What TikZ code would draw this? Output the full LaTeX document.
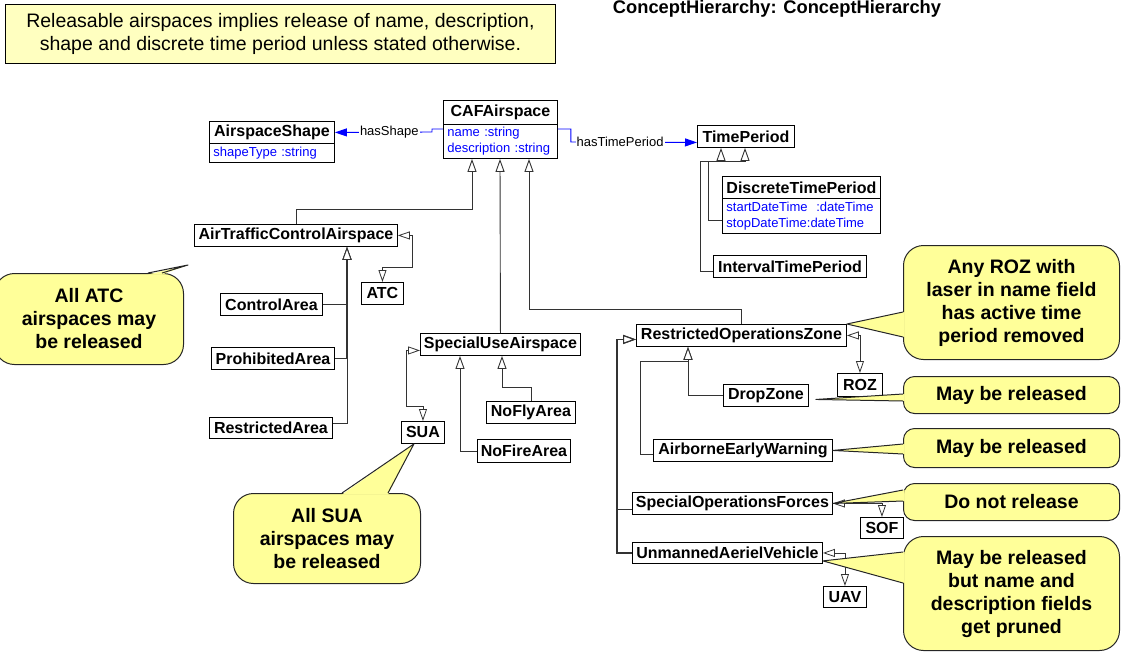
\documentclass[tikz,border=0pt]{standalone}
\usepackage{fontspec}
\setmainfont{Liberation Sans}
\usetikzlibrary{arrows.meta}
\definecolor{notefill}{RGB}{255,255,192}
\definecolor{callfill}{RGB}{255,255,153}
\definecolor{attrblue}{RGB}{0,0,255}
\newcommand\bubptr[4]{%
  \fill[callfill] ([#4]#1) -- (#2) -- ([#4]#3) -- cycle;
  \draw[ptrline] (#1) -- (#2) -- (#3);
}
\tikzset{
  cls/.style={draw=black, fill=white, line width=0.9pt, inner sep=0pt, anchor=north west, font=\fontsize{16}{17}\selectfont\bfseries},
  attr/.style={draw=black, fill=white, line width=0.9pt, inner xsep=4pt, inner ysep=0pt, anchor=north west, align=left, text=attrblue, font=\fontsize{13}{16}\selectfont},
  gen/.style={draw=black!80, line width=0.9pt, -{Triangle[open,length=13pt,width=9pt,fill=white]}},
  dep/.style={draw=black!80, line width=0.8pt, {Triangle[open,length=12pt,width=8pt,fill=white]}-{Triangle[open,length=12pt,width=8pt,fill=white]}},
  assoc/.style={draw=attrblue, line width=0.9pt, -{Triangle[length=12pt,width=8pt]}},
  lbl/.style={fill=white, inner sep=1pt, text=black, font=\fontsize{13}{15}\selectfont},
  bubble/.style={draw=black!85, fill=callfill, line width=1pt, rounded corners=20pt, anchor=north west, align=center, inner sep=0pt, font=\fontsize{19.5}{23}\selectfont\bfseries},
  bubsmall/.style={bubble, rounded corners=11pt},
  ptrline/.style={draw=black!85, line width=1pt, line join=round},
}
\begin{document}
\begin{tikzpicture}[x=1pt,y=-1pt]
\useasboundingbox (0,0) rectangle (1122,654);

% note and title
\node[draw=black, fill=notefill, line width=0.9pt, anchor=north west, minimum width=550pt, minimum height=59pt, align=center, inner sep=0pt, font=\fontsize{19.5}{23}\selectfont] (note) at (5,4) {Releasable airspaces implies release of name, description,\\shape and discrete time period unless stated otherwise.};
\node[font=\fontsize{18.3}{20}\selectfont\bfseries, inner sep=0pt] (title) at (777,9) {ConceptHierarchy: ConceptHierarchy};

% classes
\node[cls, minimum width=114pt, minimum height=24pt] (caf) at (443,100) {CAFAirspace};
\node[attr, text width=106pt, minimum height=34pt] (cafa) at (443,124) {name :string\\description :string};
\node[cls, minimum width=125pt, minimum height=22pt] (shape) at (209,121) {AirspaceShape};
\node[attr, text width=117pt, minimum height=19pt] (shapea) at (209,143) {shapeType :string};
\node[cls, minimum width=97pt, minimum height=22pt] (tp) at (697,125) {TimePeriod};
\node[cls, minimum width=158pt, minimum height=22pt] (dtp) at (722,176) {DiscreteTimePeriod};
\node[attr, text width=150pt, minimum height=35pt] (dtpa) at (722,198) {startDateTime\ \ :dateTime\\stopDateTime:dateTime};
\node[cls, minimum width=153pt, minimum height=22pt] (itp) at (713,255) {IntervalTimePeriod};
\node[cls, minimum width=203pt, minimum height=22pt] (atca) at (194,224) {AirTrafficControlAirspace};
\node[cls, minimum width=42pt, minimum height=22pt] (atc) at (361,282) {ATC};
\node[cls, minimum width=102pt, minimum height=22pt] (ctrl) at (220,293) {ControlArea};
\node[cls, minimum width=123pt, minimum height=22pt] (proh) at (211,347) {ProhibitedArea};
\node[cls, minimum width=123pt, minimum height=21pt] (restr) at (209,417) {RestrictedArea};
\node[cls, minimum width=160pt, minimum height=22pt] (sua) at (420,333) {SpecialUseAirspace};
\node[cls, minimum width=43pt, minimum height=22pt] (suas) at (401,421) {SUA};
\node[cls, minimum width=89pt, minimum height=22pt] (nofly) at (486,401) {NoFlyArea};
\node[cls, minimum width=93pt, minimum height=23pt] (nofire) at (477,439) {NoFireArea};
\node[cls, minimum width=210pt, minimum height=22pt] (roz) at (636,324) {RestrictedOperationsZone};
\node[cls, minimum width=45pt, minimum height=23pt] (rozs) at (837,373) {ROZ};
\node[cls, minimum width=85pt, minimum height=22pt] (drop) at (723,384) {DropZone};
\node[cls, minimum width=179pt, minimum height=22pt] (aew) at (653,439) {AirborneEarlyWarning};
\node[cls, minimum width=200pt, minimum height=22pt] (sof) at (632,492) {SpecialOperationsForces};
\node[cls, minimum width=43pt, minimum height=21pt] (sofs) at (860,517) {SOF};
\node[cls, minimum width=190pt, minimum height=21pt] (uav) at (632,542) {UnmannedAerielVehicle};
\node[cls, minimum width=43pt, minimum height=21pt] (uavs) at (823,586) {UAV};

% associations
\draw[assoc] ([yshift=-5pt]cafa.north west) -- ++(-11,0) -- ++(0,3) -- node[lbl, pos=0.44]{hasShape} (shape.east);
\draw[assoc] ([yshift=-5pt]cafa.north east) -- ++(13,0) -- ++(0,13) -- node[lbl, pos=0.39]{hasTimePeriod} ([yshift=-6pt]tp.west);

% generalizations to CAFAirspace
\draw[gen] (atca.north) -- ++(0,-15) -| ([xshift=29pt]cafa.south west);
\draw[gen] (sua.north) -- ([xshift=57pt]cafa.south west);
\draw[gen] (roz.north) -- ++(0,-15) -| ([xshift=86pt]cafa.south west);

% time periods
\draw[gen] ([yshift=-4pt]dtpa.west) -- ++(-14,0) |- ([xshift=24pt,yshift=-14pt]tp.south west) -- ([xshift=24pt]tp.south west);
\draw[gen] ([yshift=-5pt]itp.west) -- ++(-13,0) |- ([xshift=48pt,yshift=-14pt]tp.south west) -- ([xshift=48pt]tp.south west);

% ATC children
\draw[gen, line width=1.2pt] (ctrl.east) -| ([xshift=153pt]atca.south west);
\draw[gen, line width=1.2pt] (proh.east) -| ([xshift=153pt]atca.south west);
\draw[gen] ([yshift=5pt]restr.east) -| ([xshift=153pt]atca.south west);
\draw[dep] (atca.east) -- ++(14,0) -- ++(0,32) -| (atc.north);

% SUA children
\draw[gen] (nofly.north) -- ++(0,-14) -| ([xshift=82pt]sua.south west);
\draw[gen] (nofire.west) -| ([xshift=40pt]sua.south west);
\draw[dep] ([yshift=-6pt]sua.west) -- ++(-14,0) |- ([yshift=15pt]suas.north) -- (suas.north);

% ROZ children
\draw[gen] (drop.west) -| ([xshift=52pt]roz.south west);
\draw[gen] ([yshift=-4pt]aew.west) -| ([xshift=4pt,yshift=-15pt]roz.south west) -| ([xshift=52pt]roz.south west);
\draw[gen, line width=1.2pt] ([yshift=-6pt]sof.west) -- ++(-15,0) |- ([yshift=-4pt]roz.west);
\draw[gen, line width=1.2pt] (uav.west) -- ++(-15,0) |- ([yshift=-4pt]roz.west);
\draw[dep] (roz.east) -| (rozs.north);
\draw[dep] (sof.east) -| (sofs.north);
\draw[dep] (uav.east) -| (uavs.north);

% callouts
\node[bubble, minimum width=189pt, minimum height=91pt] (cATC) at (-6,273) {All ATC\\airspaces may\\be released};
\node[bubble, minimum width=187pt, minimum height=90pt] (cSUA) at (233,493) {All SUA\\airspaces may\\be released};
\node[bubble, minimum width=216pt, minimum height=114pt] (cROZ) at (903,245) {Any ROZ with\\laser in name field\\has active time\\period removed};
\node[bubsmall, minimum width=216pt, minimum height=37pt] (cDrop) at (903,376) {May be released};
\node[bubsmall, minimum width=216pt, minimum height=39pt] (cAEW) at (903,428) {May be released};
\node[bubsmall, minimum width=216pt, minimum height=37pt] (cSOF) at (903,483) {Do not release};
\node[bubble, minimum width=216pt, minimum height=114pt] (cUAV) at (903,536) {May be released\\but name and\\description fields\\get pruned};

\coordinate (tATC) at (188,265);
\coordinate (tSUA) at ([xshift=-9pt]suas.south);
\coordinate (tROZ) at (roz.north east);
\coordinate (tDrop) at ([xshift=7pt,yshift=-4pt]drop.east);
\coordinate (tAEW) at (aew.east);
\coordinate (tSOF) at (sof.east);
\coordinate (tUAV) at ([yshift=3pt]uav.south east);

\coordinate (bA1) at ([xshift=154pt]cATC.north west);
\coordinate (bA2) at ([xshift=168pt]cATC.north west);
\coordinate (bS1) at ([xshift=109pt]cSUA.north west);
\coordinate (bS2) at ([xshift=155pt]cSUA.north west);
\coordinate (bR1) at ([yshift=-67pt]cROZ.north west);
\coordinate (bR2) at ([yshift=-92pt]cROZ.north west);
\coordinate (bD1) at ([yshift=-18pt]cDrop.north west);
\coordinate (bD2) at ([yshift=-25pt]cDrop.north west);
\coordinate (bE1) at ([yshift=-16pt]cAEW.north west);
\coordinate (bE2) at ([yshift=-26pt]cAEW.north west);
\coordinate (bF1) at ([yshift=-7pt]cSOF.north west);
\coordinate (bF2) at ([yshift=-18pt]cSOF.north west);
\coordinate (bU1) at ([yshift=-16pt]cUAV.north west);
\coordinate (bU2) at ([yshift=-47pt]cUAV.north west);

\bubptr{bA1}{tATC}{bA2}{yshift=-1.5pt}
\bubptr{bS1}{tSUA}{bS2}{yshift=-1.5pt}
\bubptr{bR1}{tROZ}{bR2}{xshift=1.5pt}
\bubptr{bD1}{tDrop}{bD2}{xshift=1.5pt}
\bubptr{bE1}{tAEW}{bE2}{xshift=1.5pt}
\bubptr{bF1}{tSOF}{bF2}{xshift=1.5pt}
\bubptr{bU1}{tUAV}{bU2}{xshift=1.5pt}
\end{tikzpicture}
\end{document}
